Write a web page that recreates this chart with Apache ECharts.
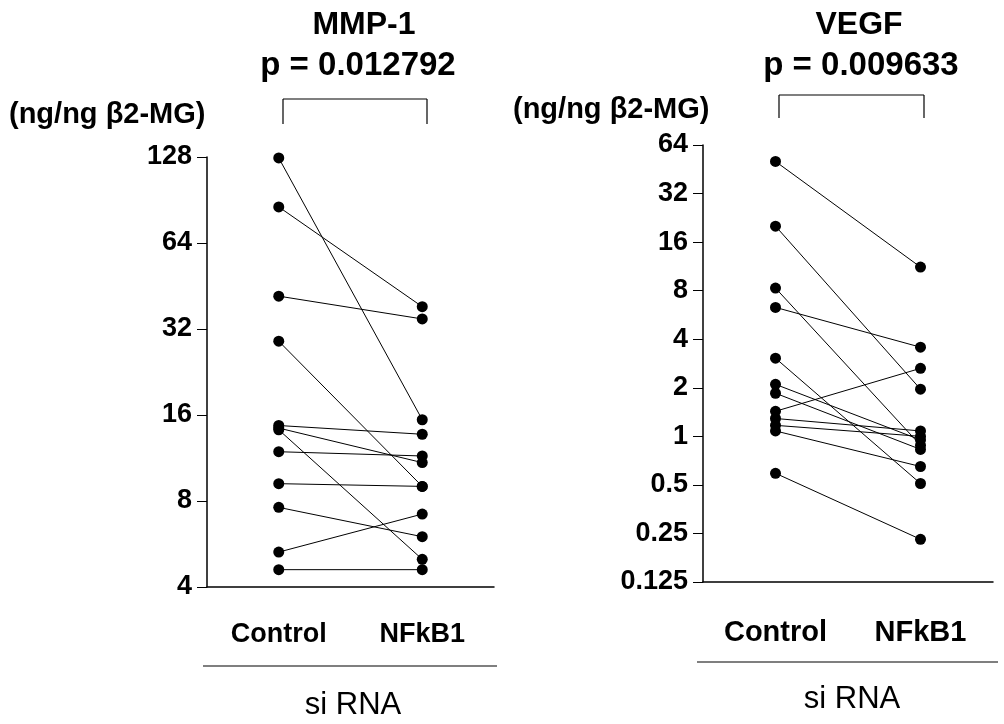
<!DOCTYPE html>
<html>
<head>
<meta charset="utf-8">
<script src="https://cdn.jsdelivr.net/npm/echarts@6/dist/echarts.min.js"></script>
<style>html,body{margin:0;padding:0;background:#fff}#c{width:1004px;height:724px}</style>
</head>
<body>
<div id="c"></div>
<script>
const categories = ['Control', 'NFkB1'];
const mmpControl = [127, 85.6, 41.7, 29, 14.7, 14.4, 14.2, 11.9, 9.2, 7.6, 5.3, 4.6];
const mmpNFkB1   = [15.4, 38.3, 34.7, 9.0, 13.7, 10.9, 5.0, 11.5, 9.0, 6.0, 7.2, 4.6];
const vegfControl = [50.6, 20.1, 8.3, 6.3, 3.05, 2.1, 1.85, 1.43, 1.29, 1.17, 1.08, 0.59];
const vegfNFkB1   = [11.2, 1.96, 0.88, 3.57, 0.51, 0.95, 0.83, 2.64, 1.08, 1.0, 0.65, 0.23];
const mmpTicks = [4, 8, 16, 32, 64, 128];
const vegfTicks = [0.125, 0.25, 0.5, 1, 2, 4, 8, 16, 32, 64];

const FONT = 'Liberation Sans, Arial, sans-serif';
const chart = echarts.init(document.getElementById('c'));

function pairSeries(ctrl, nf, idx) {
  return ctrl.map((v, i) => ({
    type: 'line',
    xAxisIndex: idx, yAxisIndex: idx,
    data: [v, nf[i]],
    symbol: 'circle', symbolSize: 11,
    itemStyle: { color: '#000' },
    lineStyle: { color: '#000', width: 1 },
    silent: true, animation: false
  }));
}
function xAx(idx, margin, size) {
  return {
    type: 'category', gridIndex: idx, data: categories, boundaryGap: true,
    axisLine: { lineStyle: { color: '#000', width: 1.5 } },
    axisTick: { alignWithLabel: true, length: 10, lineStyle: { color: '#000', width: 1 } },
    axisLabel: { margin: margin, fontSize: size, fontWeight: 'bold', color: '#000', fontFamily: FONT }
  };
}
function yAx(idx, min, max, ticks) {
  return {
    type: 'log', logBase: 2, gridIndex: idx, min: min, max: max, interval: 1,
    axisLine: { show: true, lineStyle: { color: '#000', width: 1.5 } },
    axisTick: { show: true, length: 10, lineStyle: { color: '#000', width: 1 } },
    splitLine: { show: false },
    minorTick: { show: false },
    axisLabel: {
      margin: 15, fontSize: 27, fontWeight: 'bold', color: '#000', fontFamily: FONT,
      formatter: v => {
        const r = +(+v).toPrecision(6);
        const t = ticks.find(k => Math.abs(k - r) < 1e-6);
        return t !== undefined ? String(t) : '';
      }
    }
  };
}
function txt(x, y, s, size, bold, align) {
  return { type: 'text', x: x, y: y, style: { text: s, fontSize: size, fontWeight: bold ? 'bold' : 'normal', fontFamily: FONT, fill: '#000', align: align || 'center', verticalAlign: 'middle' } };
}
function ln(x1, y1, x2, y2) {
  return { type: 'line', shape: { x1, y1, x2, y2 }, style: { stroke: '#000', lineWidth: 1.2 } };
}

chart.setOption({
  animation: false,
  backgroundColor: '#fff',
  grid: [
    { left: 207, top: 157, width: 287, height: 430 },
    { left: 703, top: 145, width: 290, height: 437 }
  ],
  xAxis: [xAx(0, 34, 27), xAx(1, 36, 29)],
  yAxis: [yAx(0, 4, 128, mmpTicks), yAx(1, 0.125, 64, vegfTicks)],
  series: [...pairSeries(mmpControl, mmpNFkB1, 0), ...pairSeries(vegfControl, vegfNFkB1, 1)],
  graphic: [
    txt(364, 25, 'MMP-1', 32, true),
    txt(358, 66, 'p = 0.012792', 33, true),
    ln(283, 99, 427, 99), ln(283, 99, 283, 124), ln(427, 99, 427, 124),
    txt(9, 115, '(ng/ng \u03b22-MG)', 29, true, 'left'),
    ln(203, 666, 497, 666),
    txt(353, 705, 'si RNA', 31, false),
    txt(859, 25, 'VEGF', 32, true),
    txt(861, 66, 'p = 0.009633', 33, true),
    ln(779, 95, 924, 95), ln(779, 95, 779, 118), ln(924, 95, 924, 118),
    txt(513, 110, '(ng/ng \u03b22-MG)', 29, true, 'left'),
    ln(697, 662, 998, 662),
    txt(852, 699, 'si RNA', 31, false)
  ]
});
</script>
</body>
</html>
